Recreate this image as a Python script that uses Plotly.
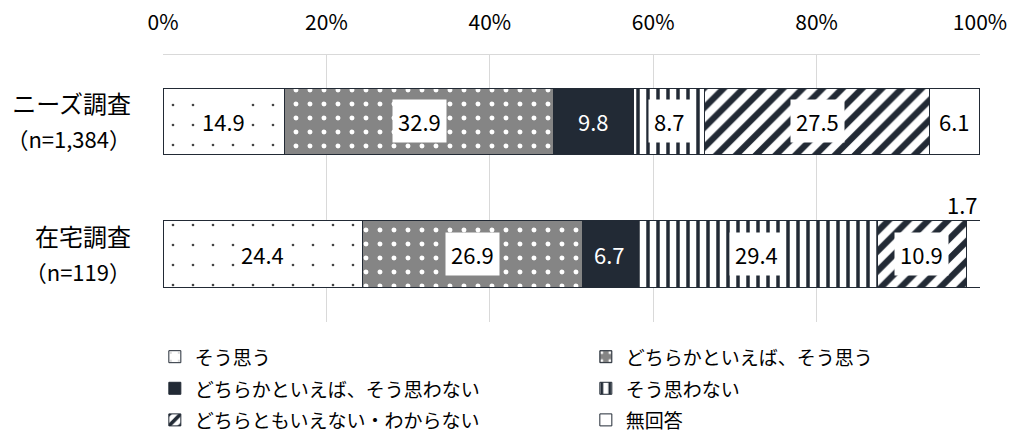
import plotly.graph_objects as go

categories = ["ニーズ調査<br>（n=1,384）", "在宅調査<br>（n=119）"]
series_names = ["そう思う", "どちらかといえば、そう思う", "どちらかといえば、そう思わない",
                "そう思わない", "どちらともいえない・わからない", "無回答"]
s_sou = [14.9, 24.4]
s_dochira_sou = [32.9, 26.9]
s_dochira_not = [9.8, 6.7]
s_not = [8.7, 29.4]
s_neither = [27.5, 10.9]
s_noanswer = [6.1, 1.7]
series_values = [s_sou, s_dochira_sou, s_dochira_not, s_not, s_neither, s_noanswer]
tick_vals = [0, 20, 40, 60, 80, 100]
tick_text = ["0%", "20%", "40%", "60%", "80%", "100%"]

DARK = "#222a35"
FONT = "Noto Sans CJK JP"

styles = [
    dict(color="white", pattern=dict(shape=".", fgcolor="#444", bgcolor="white", size=20,
                                     solidity=0.014, fgopacity=1)),
    dict(color="#858585", pattern=dict(shape=".", fgcolor="white", bgcolor="#858585", size=14,
                                       solidity=0.1, fgopacity=1)),
    dict(color=DARK, pattern=dict(shape="")),
    dict(color="white", pattern=dict(shape="|", fgcolor=DARK, bgcolor="white", size=10,
                                     solidity=0.35, fgopacity=1)),
    dict(color="white", pattern=dict(shape="/", fgcolor=DARK, bgcolor="white", size=14,
                                     solidity=0.45, fgopacity=1)),
    dict(color="white", pattern=dict(shape="")),
]


def span(text, px):
    return f"<span style='font-size:{px}px'>{text}</span>"


def cat_label(c):
    first, second = c.split("<br>")
    return span(first, 24) + "<br>" + span(second, 22)


cat_labels = [cat_label(c) for c in categories]

fig = go.Figure()
for name, vals, st in zip(series_names, series_values, styles):
    fig.add_trace(go.Bar(
        name=span(name, 19), y=categories, x=vals, orientation="h",
        marker=dict(color=st["color"], pattern=st["pattern"], line=dict(color=DARK, width=1)),
        hoverinfo="skip",
    ))

# value labels
for ci, cat in enumerate(categories):
    cum = 0.0
    for si, vals in enumerate(series_values):
        v = vals[ci]
        mid = cum + v / 2
        cum = round(cum + v, 6)
        if v < 3:
            fig.add_annotation(x=min(cum, 100) - 0.01, y=cat, text=f"{v:.1f}", showarrow=False,
                               xanchor="right", yanchor="bottom", yshift=32,
                               font=dict(family=FONT, size=22, color="black"))
            continue
        if si == 2:
            fig.add_annotation(x=mid, y=cat, text=f"{v:.1f}", showarrow=False,
                               font=dict(family=FONT, size=22, color="white"))
        else:
            fig.add_annotation(x=mid, y=cat, text=f"{v:.1f}", showarrow=False,
                               bgcolor="white", borderpad=5,
                               font=dict(family=FONT, size=22, color="black"))

fig.update_layout(
    barmode="stack",
    bargap=0.5,
    width=1014, height=444,
    margin=dict(l=163, r=34, t=55, b=122, autoexpand=False),
    plot_bgcolor="white", paper_bgcolor="white",
    font=dict(family=FONT, size=18, color="black"),
    showlegend=True,
    legend=dict(orientation="h", x=-0.01, xanchor="left", y=-0.052, yanchor="top",
                entrywidth=386, entrywidthmode="pixels",
                font=dict(family=FONT, size=22, color="black"),
                traceorder="normal", itemclick=False, itemdoubleclick=False),
    xaxis=dict(range=[0, 100], side="top", tickvals=tick_vals, ticktext=tick_text,
               showgrid=True, gridcolor="#d9d9d9", gridwidth=1,
               showline=True, linecolor="#d9d9d9", mirror=False,
               zeroline=False, ticks="", ticklabelstandoff=16, automargin=False,
               tickfont=dict(family=FONT, size=21, color="black")),
    yaxis=dict(autorange="reversed", showgrid=False, ticks="",
               tickvals=categories, ticktext=cat_labels,
               ticklabelstandoff=31, automargin=False,
               tickfont=dict(family=FONT, size=27, color="black")),
)

fig.write_html("out.html", config={"displayModeBar": False},
               post_script="document.body.style.margin='0';document.body.style.overflow='hidden';")
